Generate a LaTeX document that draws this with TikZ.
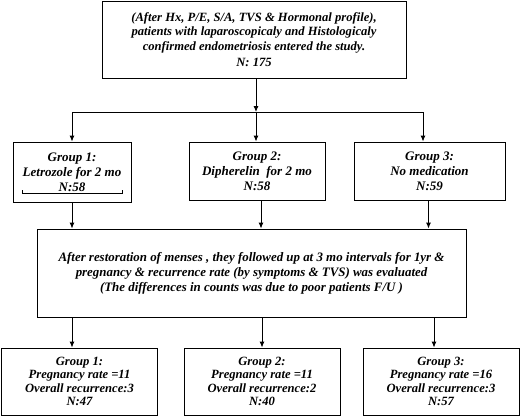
\documentclass[tikz,border=0pt]{standalone}
\usepackage{fontspec}
\setmainfont{Liberation Serif}
\usetikzlibrary{arrows.meta}
\begin{document}
\begin{tikzpicture}[x=1pt,y=-1pt,
		box/.style={draw,line width=0.9pt,align=center,inner sep=0pt,font=\fontsize{12.9}{15}\selectfont\bfseries\itshape},
		grp/.style={box,font=\fontsize{13}{15}\selectfont\bfseries\itshape},
		res/.style={box,font=\fontsize{12.6}{13.5}\selectfont\bfseries\itshape,minimum width=156,minimum height=67},
		arr/.style={-{Latex[length=6pt,width=5pt]},line width=0.9pt}]
		\useasboundingbox (0,0) rectangle (521,416);
		\node[box,font=\fontsize{12.6}{14.5}\selectfont\bfseries\itshape,minimum width=304,minimum height=77] (top) at (254,39.5) {(After Hx, P/E, S/A, TVS \& Hormonal profile),\\patients with laparoscopicaly and Histologicaly\\confirmed endometriosis entered the study.\\[1.5pt]N: 175};
		\node[grp,minimum width=118,minimum height=60] (g1) at (72,172) {Group 1:\\Letrozole for 2 mo\\N:58};
		\node[grp,minimum width=136,minimum height=58] (g2) at (257,171) {Group 2:\\Diphereli{n}\ \ for 2 mo\\N:58};
		\node[grp,minimum width=151,minimum height=58] (g3) at (429.5,171) {Group 3:\\No medication\\N:59};
		\node[box,minimum width=429,minimum height=88] (mid) at (251.5,273) {After restoration of menses , they followed up at 3 mo intervals for 1yr \&\\pregnancy \& recurrence rate (by symptoms \& TVS) was evaluated\\(The differences in counts was due to poor patients F/U )};
		\node[res] (r1) at (79.5,381.5) {Group 1:\\Pregnancy rate =11\\Overall recurrence:3\\N:47};
		\node[res] (r2) at (262,381.5) {Group 2:\\Pregnancy rate =11\\Overall recurrence:2\\N:40};
		\node[res] (r3) at (441,381.5) {Group 3:\\Pregnancy rate =16\\Overall recurrence:3\\N:57};
		\coordinate (b1) at (72,112);
		\coordinate (b3) at (423,112);
		% split into the three groups
		\draw[arr] ([xshift=2pt]top.south) -- ([xshift=2pt]top.south |- b1);
		\draw[line width=0.9pt] (b1) -- (b3);
		\draw[arr] (b1) -- (b1 |- g1.north);
		\draw[arr] ([xshift=2pt]top.south |- b1) -- ([xshift=2pt]top.south |- g2.north);
		\draw[arr] (b3) -- (b3 |- g3.north);
		% bracket under N:58
		\draw[line width=0.6pt] (22,190) -- (22,193) -- (122,193) -- (122,190);
		\draw[arr] (g1.south) -- (g1.south |- mid.north);
		\draw[arr] ([xshift=4pt]g2.south) -- ([xshift=4pt]g2.south |- mid.north);
		\draw[arr] ([xshift=-1pt]g3.south) -- ([xshift=-1pt]g3.south |- mid.north);
		% follow up results
		\draw[arr] (mid.south -| g1.south) -- (r1.north -| g1.south);
		\draw[arr] (mid.south -| r2.north) -- (r2.north);
		\draw[arr] ([xshift=-7pt]r3.north |- mid.south) -- ([xshift=-7pt]r3.north);
	\end{tikzpicture}
\end{document}
